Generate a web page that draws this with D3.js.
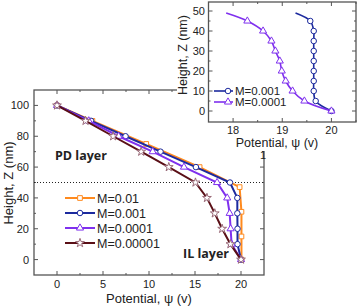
<!DOCTYPE html>
<html>
<head>
<meta charset="utf-8">
<script src="https://cdn.jsdelivr.net/npm/d3@7"></script>
<style>
  body { margin: 0; background: #fff; }
  svg { display: block; font-family: "Liberation Sans", Arial, sans-serif; }
</style>
</head>
<body>
<svg id="chart" width="360" height="306"></svg>
<script>
// ---- data (main plot) ----
const mainZ = [100, 90, 80, 70, 60, 50, 40, 30, 20, 10, 0];
const m001   = [0, 3.7, 7.45, 11.25, 15.1, 18.8, 19.6, 19.6, 19.62, 19.62, 20];
const m0001  = [0, 3.45, 6.7, 10.4, 13.8, 17.4, 18.5, 18.77, 18.87, 18.98, 20];
const m00001 = [0, 3.1, 6.1, 9.15, 12.15, 15.05, 16.3, 17.15, 17.95, 18.85, 20];
const orangeZ = [100, 90, 75, 60, 47, 31, 15, 0];
const m01     = [0, 3.85, 9.7, 15.5, 19.85, 20.05, 20.05, 20.05];
const mainLabels = ['M=0.01', 'M=0.001', 'M=0.0001', 'M=0.00001'];
const mainXTicks = [0, 5, 10, 15, 20];
const mainYTicks = [0, 20, 40, 60, 80, 100];

// ---- data (inset) ----
const insetZ = [49, 45, 40, 35, 30, 25, 20, 15, 10, 5, 0];
const inM001  = [19.27, 19.57, 19.64, 19.64, 19.64, 19.64, 19.64, 19.64, 19.64, 19.68, 20.0];
const inM0001 = [17.86, 18.29, 18.61, 18.78, 18.86, 18.95, 18.99, 19.07, 19.21, 19.45, 20.0];
const insetLabels = ['M=0.001', 'M=0.0001'];
const insetXTicks = [18, 19, 20];
const insetYTicks = [0, 10, 20, 30, 40, 50];

const svg = d3.select('#chart');
const frameCol = '#555';

// ---- main plot ----
const mx = d3.scaleLinear().domain([-2.5, 22.5]).range([34, 264]);
const my = d3.scaleLinear().domain([-10, 110]).range([275, 90]);
const main = svg.append('g');

// inward ticks on all four sides
function ticks(g, scale, vals, len, orient, pos) {
  vals.forEach(v => {
    const p = scale(v);
    if (orient === 'bottom') g.append('line').attr('x1', p).attr('x2', p).attr('y1', pos).attr('y2', pos - len);
    if (orient === 'top')    g.append('line').attr('x1', p).attr('x2', p).attr('y1', pos).attr('y2', pos + len);
    if (orient === 'left')   g.append('line').attr('y1', p).attr('y2', p).attr('x1', pos).attr('x2', pos + len);
    if (orient === 'right')  g.append('line').attr('y1', p).attr('y2', p).attr('x1', pos).attr('x2', pos - len);
  });
  g.selectAll('line').attr('stroke', frameCol).attr('stroke-width', 1);
}

const mt = main.append('g');
const mxMinor = d3.range(0, 22.5, 2.5).filter(v => v % 5 !== 0);
const myMinor = d3.range(-0, 110, 10).filter(v => v % 20 !== 0);
ticks(mt, mx, mainXTicks, 4, 'bottom', 275);
ticks(mt, mx, mxMinor, 2, 'bottom', 275);
ticks(mt, mx, mainXTicks, 4, 'top', 90);
ticks(mt, mx, mxMinor, 2, 'top', 90);
ticks(mt, my, mainYTicks, 4, 'left', 34);
ticks(mt, my, myMinor, 2, 'left', 34);
ticks(mt, my, mainYTicks, 4, 'right', 264);
ticks(mt, my, myMinor, 2, 'right', 264);

main.append('rect').attr('x', 34).attr('y', 90).attr('width', 230).attr('height', 185)
  .attr('fill', 'none').attr('stroke', frameCol).attr('stroke-width', 1.3);

// dotted boundary at z=50
main.append('line').attr('x1', 34).attr('x2', 264).attr('y1', my(50)).attr('y2', my(50))
  .attr('stroke', '#222').attr('stroke-width', 1).attr('stroke-dasharray', '1 2');

main.selectAll('.xl').data(mainXTicks).enter().append('text')
  .attr('x', d => mx(d)).attr('y', 288).attr('text-anchor', 'middle')
  .attr('font-size', 11).attr('fill', '#222').text(d => d);
main.selectAll('.yl').data(mainYTicks).enter().append('text')
  .attr('x', 29).attr('y', d => my(d) + 4).attr('text-anchor', 'end')
  .attr('font-size', 11).attr('fill', '#222').text(d => d);

main.append('text').attr('x', 149).attr('y', 303).attr('text-anchor', 'middle')
  .attr('font-size', 13).attr('fill', '#222').text('Potential, ψ (v)');
main.append('text').attr('transform', 'translate(13,183) rotate(-90)').attr('text-anchor', 'middle')
  .attr('font-size', 13).attr('fill', '#222').text('Height, Z (nm)');

main.append('text').attr('x', 55).attr('y', 160).attr('font-size', 12.5).attr('font-weight', 700)
  .attr('font-family', '"Open Sans", sans-serif').attr('fill', '#222').text('PD layer');
main.append('text').attr('x', 183).attr('y', 258).attr('font-size', 12.5).attr('font-weight', 700)
  .attr('font-family', '"Open Sans", sans-serif').attr('fill', '#222').text('IL layer');

const series = [
  { v: m01,    z: orangeZ, color: '#FF8A1E', sym: d3.symbolSquare,   size: 22 },
  { v: m001,   z: mainZ,   color: '#1C2A9E', sym: d3.symbolCircle,   size: 24 },
  { v: m0001,  z: mainZ,   color: '#7F30EE', sym: d3.symbolTriangle, size: 22 },
  { v: m00001, z: mainZ,   color: '#5A0F16', sym: d3.symbolStar,     size: 24 }
];
const mline = d3.line().x(d => mx(d[0])).y(d => my(d[1]));

series.forEach(s => {
  const pts = s.v.map((v, i) => [v, s.z[i]]);
  main.append('path').attr('d', mline(pts)).attr('fill', 'none')
    .attr('stroke', s.color).attr('stroke-width', 2);
  main.selectAll(null).data(pts).enter().append('path')
    .attr('d', d3.symbol().type(s.sym).size(s.size))
    .attr('transform', d => `translate(${mx(d[0])},${my(d[1])})`)
    .attr('fill', '#fff').attr('stroke', s.sym === d3.symbolStar ? '#9a6a78' : s.color)
    .attr('stroke-width', 1);
});

// legend
series.forEach((s, i) => {
  const y = 198 + i * 15;
  main.append('line').attr('x1', 65).attr('x2', 95).attr('y1', y).attr('y2', y)
    .attr('stroke', s.color).attr('stroke-width', 2);
  main.append('path').attr('d', d3.symbol().type(s.sym).size(s.size)())
    .attr('transform', `translate(80,${y})`)
    .attr('fill', '#fff').attr('stroke', s.sym === d3.symbolStar ? '#9a6a78' : s.color).attr('stroke-width', 1);
  main.append('text').attr('x', 97).attr('y', y + 4.5).attr('font-size', 12.5)
    .attr('fill', '#222').text(mainLabels[i]);
});

// ---- inset ----
const inset = svg.append('g');
inset.append('rect').attr('x', 177).attr('y', 0).attr('width', 183).attr('height', 151).attr('fill', '#fff');

const ix = d3.scaleLinear().domain([17.5, 20.5]).range([208.5, 356]);
const iy = d3.scaleLinear().domain([-5.5, 54.5]).range([122, 2]);

const it = inset.append('g');
const ixMinor = [17.5, 18.5, 19.5, 20.5];
const iyMinor = [5, 15, 25, 35, 45];
ticks(it, ix, insetXTicks, 4, 'bottom', 122);
ticks(it, ix, ixMinor, 2, 'bottom', 122);
ticks(it, ix, insetXTicks, 4, 'top', 2);
ticks(it, ix, ixMinor, 2, 'top', 2);
ticks(it, iy, insetYTicks, 4, 'left', 208.5);
ticks(it, iy, iyMinor, 2, 'left', 208.5);
ticks(it, iy, insetYTicks, 4, 'right', 356);
ticks(it, iy, iyMinor, 2, 'right', 356);

inset.append('rect').attr('x', 208.5).attr('y', 2).attr('width', 147.5).attr('height', 120)
  .attr('fill', 'none').attr('stroke', frameCol).attr('stroke-width', 1.3);

inset.selectAll('.ixl').data(insetXTicks).enter().append('text')
  .attr('x', d => ix(d)).attr('y', 134).attr('text-anchor', 'middle')
  .attr('font-size', 11).attr('fill', '#222').text(d => d);
inset.selectAll('.iyl').data(insetYTicks).enter().append('text')
  .attr('x', 205).attr('y', d => iy(d) + 4).attr('text-anchor', 'end')
  .attr('font-size', 11).attr('fill', '#222').text(d => d);

inset.append('text').attr('x', 277).attr('y', 147).attr('text-anchor', 'middle')
  .attr('font-size', 12.5).attr('fill', '#222').text('Potential, ψ (v)');
inset.append('text').attr('transform', 'translate(187,55) rotate(-90)').attr('text-anchor', 'middle')
  .attr('font-size', 12.5).attr('fill', '#222').text('Height, Z (nm)');
inset.append('text').attr('x', 263).attr('y', 159).attr('text-anchor', 'middle')
  .attr('font-size', 11).attr('fill', '#222').text('1');

const iseries = [
  { v: inM001,  color: '#1C2A9E', sym: d3.symbolCircle,   size: 24 },
  { v: inM0001, color: '#7F30EE', sym: d3.symbolTriangle, size: 22 }
];
const iline = d3.line().curve(d3.curveCatmullRom).x(d => ix(d[0])).y(d => iy(d[1]));

iseries.forEach(s => {
  const pts = s.v.map((v, i) => [v, insetZ[i]]);
  inset.append('path').attr('d', iline(pts)).attr('fill', 'none')
    .attr('stroke', s.color).attr('stroke-width', 1.6);
  inset.selectAll(null).data(pts.filter(d => d[1] % 5 === 0)).enter().append('path')
    .attr('d', d3.symbol().type(s.sym).size(s.size))
    .attr('transform', d => `translate(${ix(d[0])},${iy(d[1])})`)
    .attr('fill', '#fff').attr('stroke', s.color).attr('stroke-width', 1);
});

iseries.forEach((s, i) => {
  const y = 91 + i * 11;
  inset.append('line').attr('x1', 214).attr('x2', 233).attr('y1', y).attr('y2', y)
    .attr('stroke', s.color).attr('stroke-width', 1.6);
  inset.append('path').attr('d', d3.symbol().type(s.sym).size(s.size)())
    .attr('transform', `translate(228,${y})`)
    .attr('fill', '#fff').attr('stroke', s.color).attr('stroke-width', 1);
  inset.append('text').attr('x', 235).attr('y', y + 4).attr('font-size', 11.5)
    .attr('fill', '#222').text(insetLabels[i]);
});
</script>
</body>
</html>
